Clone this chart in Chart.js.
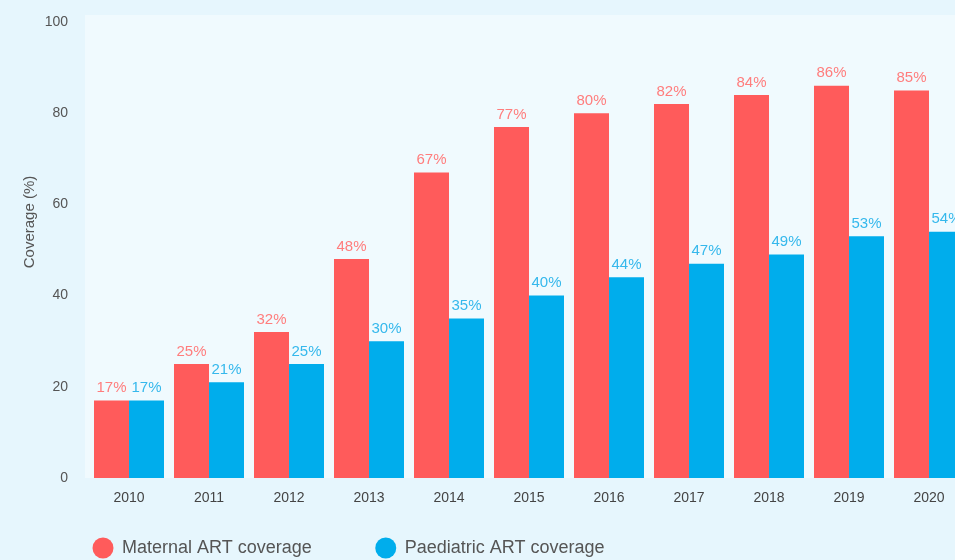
<!DOCTYPE html>
<html>
<head>
<meta charset="utf-8">
<script src="https://cdn.jsdelivr.net/npm/chart.js@4.4.1/dist/chart.umd.min.js"></script>
<style>
  html, body { margin: 0; padding: 0; background: #e6f6fd; overflow: hidden; }
  #wrap { position: relative; width: 1000px; height: 560px; }
</style>
</head>
<body>
<div id="wrap"><canvas id="coverageChart" width="1000" height="560"></canvas></div>
<script>
// chart data
const years = ['2010', '2011', '2012', '2013', '2014', '2015', '2016', '2017', '2018', '2019', '2020'];
const maternalCoverage = [17, 25, 32, 48, 67, 77, 80, 82, 84, 86, 85];
const paediatricCoverage = [17, 21, 25, 30, 35, 40, 44, 47, 49, 53, 54];
const yTicks = [0, 20, 40, 60, 80, 100];

const FONT = '"Liberation Sans", Arial, sans-serif';

// lighter panel behind the bars
const panelPlugin = {
  id: 'panelPlugin',
  beforeDraw(chart) {
    const { ctx, chartArea } = chart;
    ctx.save();
    ctx.fillStyle = '#f0fafe';
    ctx.fillRect(chartArea.left - 4, chartArea.top - 7, chart.width, chartArea.bottom - chartArea.top + 7);
    ctx.restore();
  }
};

// percentage labels above each bar
const valueLabelPlugin = {
  id: 'valueLabelPlugin',
  afterDatasetsDraw(chart) {
    const { ctx } = chart;
    chart.data.datasets.forEach((dataset, i) => {
      const meta = chart.getDatasetMeta(i);
      if (meta.hidden) return;
      meta.data.forEach((bar, index) => {
        ctx.save();
        ctx.fillStyle = dataset.labelColor;
        ctx.font = '15px ' + FONT;
        ctx.textAlign = 'center';
        ctx.textBaseline = 'bottom';
        ctx.fillText(dataset.data[index] + '%', bar.x, bar.y - 5);
        ctx.restore();
      });
    });
  }
};

// rotated y title, sits a bit above the middle
const yTitlePlugin = {
  id: 'yTitlePlugin',
  afterDraw(chart) {
    const { ctx } = chart;
    ctx.save();
    ctx.translate(30, 222);
    ctx.rotate(-Math.PI / 2);
    ctx.fillStyle = '#555';
    ctx.font = '15px ' + FONT;
    ctx.textAlign = 'center';
    ctx.textBaseline = 'middle';
    ctx.fillText('Coverage (%)', 0, 0);
    ctx.restore();
  }
};

// legend along the bottom edge
const bottomLegendPlugin = {
  id: 'bottomLegendPlugin',
  afterDraw(chart) {
    const { ctx } = chart;
    let x = 93;
    const y = 548;
    ctx.save();
    ctx.font = '18px ' + FONT;
    ctx.textBaseline = 'middle';
    chart.data.datasets.forEach(ds => {
      ctx.fillStyle = ds.backgroundColor;
      ctx.beginPath();
      ctx.arc(x + 10, y, 10.5, 0, Math.PI * 2);
      ctx.fill();
      ctx.fillStyle = '#555';
      ctx.textAlign = 'left';
      ctx.fillText(ds.label, x + 29, y);
      x += 29 + ctx.measureText(ds.label).width + 64;
    });
    ctx.restore();
  }
};

new Chart(document.getElementById('coverageChart'), {
  type: 'bar',
  data: {
    labels: years,
    datasets: [
      { label: 'Maternal ART coverage', data: maternalCoverage, backgroundColor: '#ff5b5b', labelColor: '#ff7d7d' },
      { label: 'Paediatric ART coverage', data: paediatricCoverage, backgroundColor: '#00adec', labelColor: '#35b8ec' }
    ]
  },
  options: {
    responsive: false,
    animation: false,
    layout: { padding: { top: 22, right: 31, left: 0, bottom: 0 } },
    datasets: { bar: { categoryPercentage: 0.875, barPercentage: 1 } },
    plugins: { legend: { display: false }, tooltip: { enabled: false } },
    scales: {
      x: {
        grid: { display: false, drawTicks: false },
        border: { display: false },
        ticks: { color: '#444', font: { family: FONT, size: 14 }, padding: 12 },
        afterFit(scale) { scale.height = 82; }
      },
      y: {
        min: 0,
        max: 100,
        grid: { display: false, drawTicks: false },
        border: { display: false },
        afterFit(scale) {
          scale.width = 89;
          scale.paddingTop = 0;
          scale.paddingBottom = 0;
        },
        afterBuildTicks(scale) { scale.ticks = yTicks.map(v => ({ value: v })); },
        ticks: { color: '#555', font: { family: FONT, size: 14 }, padding: 21 }
      }
    }
  },
  plugins: [panelPlugin, valueLabelPlugin, yTitlePlugin, bottomLegendPlugin]
});
</script>
</body>
</html>
